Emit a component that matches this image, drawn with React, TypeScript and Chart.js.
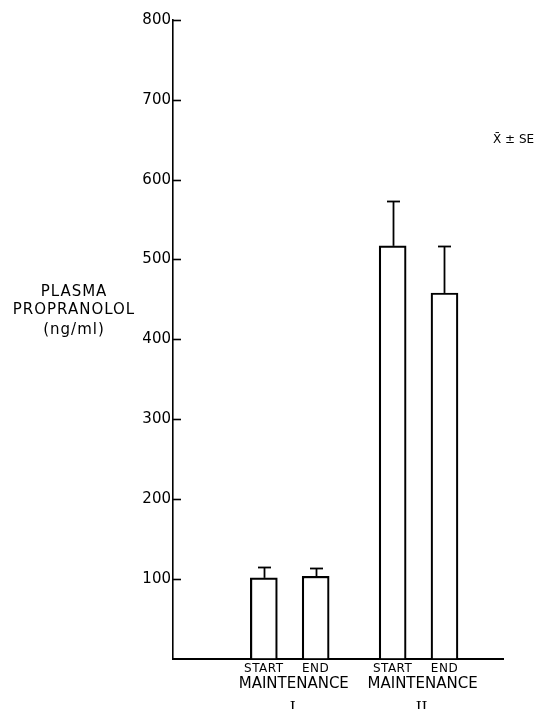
import React, { useEffect, useRef } from "react";
import { Chart, registerables } from "chart.js";

Chart.register(...registerables);

// ---- data ----
const categories = ["START", "END", "START", "END"];
const groups = ["MAINTENANCE", "MAINTENANCE"];
const groupNumerals = ["I", "II"];
const xPos = [1.77, 2.78, 4.28, 5.29];
const values = [101, 103, 517, 458];
const errors = [14, 10, 56, 59];
const yTickValues = [100, 200, 300, 400, 500, 600, 700, 800];
const yTitle = ["PLASMA", "PROPRANOLOL", "(ng/ml)"];
const legendText = "X\u0304 \u00B1 SE";

const INK = "#000000";
const SANS = "'DejaVu Sans', sans-serif";
const SERIF = "'DejaVu Serif', serif";

const overlay = {
  id: "overlay",
  afterDatasetsDraw(chart: any) {
    const ctx = chart.ctx as CanvasRenderingContext2D;
    const xs = chart.scales.x;
    const ys = chart.scales.y;
    const line = (x1: number, y1: number, x2: number, y2: number) => {
      ctx.beginPath();
      ctx.moveTo(x1, y1);
      ctx.lineTo(x2, y2);
      ctx.stroke();
    };
    ctx.save();
    ctx.strokeStyle = INK;
    ctx.fillStyle = INK;
    ctx.lineWidth = 1.8;
    // error bars
    values.forEach((v, i) => {
      const px = Math.round(xs.getPixelForValue(xPos[i])) + 0.5;
      const base = ys.getPixelForValue(v);
      const top = Math.round(ys.getPixelForValue(v + errors[i])) + 0.5;
      line(px, base, px, top);
      line(px - 6.5, top, px + 6.5, top);
    });
    // inward y ticks
    ctx.lineWidth = 1.6;
    yTickValues.forEach((t) => {
      const py = Math.round(ys.getPixelForValue(t)) + 0.5;
      line(xs.left, py, xs.left + 8, py);
    });
    // y title
    ctx.textAlign = "center";
    ctx.textBaseline = "middle";
    (ctx as any).letterSpacing = "1px";
    ctx.font = `15px ${SANS}`;
    const titleY = [292, 310.5, 330];
    yTitle.forEach((t, i) => ctx.fillText(t, 74, titleY[i]));
    // category labels
    (ctx as any).letterSpacing = "0.5px";
    ctx.font = `12px ${SANS}`;
    categories.forEach((c, i) => {
      ctx.fillText(c, xs.getPixelForValue(xPos[i]), ys.bottom + 10);
    });
    (ctx as any).letterSpacing = "0px";
    ctx.font = `15px ${SANS}`;
    groups.forEach((g, i) => {
      const cx = (xs.getPixelForValue(xPos[2 * i]) + xs.getPixelForValue(xPos[2 * i + 1])) / 2;
      ctx.fillText(g, cx + 4, ys.bottom + 26);
    });
    ctx.font = `15px ${SERIF}`;
    ctx.textBaseline = "top";
    groupNumerals.forEach((g, i) => {
      const cx = (xs.getPixelForValue(xPos[2 * i]) + xs.getPixelForValue(xPos[2 * i + 1])) / 2;
      ctx.fillText(g, cx + 3, ys.bottom + 42);
    });
    // legend note
    ctx.textAlign = "left";
    ctx.textBaseline = "middle";
    ctx.font = `12px ${SANS}`;
    ctx.fillText(legendText, 493, ys.getPixelForValue(650) + 0.5);
    ctx.restore();
  },
};

export default function App() {
  const ref = useRef<HTMLCanvasElement>(null);
  useEffect(() => {
    if (!ref.current) return;
    const chart = new Chart(ref.current, {
      type: "bar",
      data: {
        datasets: [
          {
            data: xPos.map((x, i) => ({ x, y: values[i] })) as any,
            backgroundColor: "#ffffff",
            borderColor: INK,
            borderWidth: 2.2,
            barThickness: 27,
          },
        ],
      },
      options: {
        animation: false,
        responsive: false,
        events: [],
        layout: { padding: { left: 0, top: 20, right: 38, bottom: 50.5 } },
        plugins: { legend: { display: false }, tooltip: { enabled: false } },
        scales: {
          x: {
            type: "linear",
            min: 0,
            max: 6.43,
            offset: false,
            grid: { display: false, drawTicks: false, offset: false },
            ticks: { display: false },
            border: { display: true, color: INK, width: 2 },
            afterFit: (s: any) => {
              s.height = 0;
            },
          },
          y: {
            min: 0,
            max: 800,
            grid: { display: false, drawTicks: false },
            border: { display: true, color: INK, width: 1.6 },
            ticks: {
              stepSize: 100,
              padding: 2,
              color: INK,
              font: { family: SANS, size: 15 },
              callback: (v: any) => (yTickValues.includes(Number(v)) ? String(v) : ""),
            },
            afterFit: (s: any) => {
              s.width = 173;
            },
          },
        },
      },
      plugins: [overlay],
    });
    return () => chart.destroy();
  }, []);
  return (
    <div style={{ position: "absolute", left: 0, top: 0, width: 541, height: 709, background: "#fff" }}>
      <canvas ref={ref} width={541} height={709} style={{ display: "block" }} />
    </div>
  );
}
